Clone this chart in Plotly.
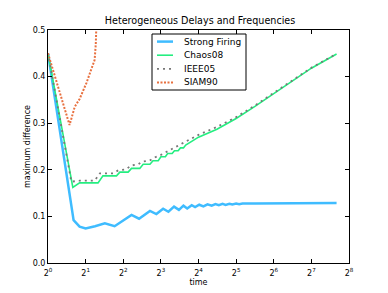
import numpy as np
import plotly.graph_objects as go

# ---- data (x given as log2(time), y = maximum difference) ----
strong_log2t = [0.0, 0.68, 0.84, 1.0, 1.25, 1.51, 1.77, 2.22, 2.42, 2.71, 2.88, 3.06, 3.2,
                3.35, 3.48, 3.6, 3.7, 3.82, 3.91, 4.02, 4.13, 4.24, 4.35, 4.45, 4.54, 4.64,
                4.72, 4.82, 4.9, 5.0, 5.08, 5.17, 5.5, 6.0, 7.0, 7.67]
strong_y = [0.45, 0.092, 0.078, 0.074, 0.079, 0.085, 0.079, 0.103, 0.095, 0.1116, 0.105,
            0.1165, 0.110, 0.121, 0.114, 0.123, 0.117, 0.124, 0.120, 0.125, 0.1215, 0.126,
            0.123, 0.1265, 0.124, 0.127, 0.1248, 0.1272, 0.1255, 0.1275, 0.126, 0.1278,
            0.1278, 0.128, 0.1285, 0.1285]

chaos_log2t = [0.0, 0.66, 0.84, 1.33, 1.46, 1.82, 1.91, 2.13, 2.22, 2.44, 2.53, 2.71, 2.79,
               2.93, 3.0, 3.12, 3.18, 3.3, 3.36, 3.46, 3.52, 3.6, 3.66, 4.0, 4.49, 5.0, 5.5,
               6.0, 6.5, 7.0, 7.67]
chaos_y = [0.45, 0.162, 0.172, 0.172, 0.187, 0.187, 0.195, 0.195, 0.203, 0.203, 0.212, 0.212,
           0.2195, 0.2195, 0.228, 0.228, 0.235, 0.235, 0.241, 0.241, 0.247, 0.247, 0.253,
           0.270, 0.287, 0.310, 0.336, 0.363, 0.390, 0.418, 0.4485]

ieee_log2t = [0.0, 0.62, 0.84, 1.24, 1.38, 1.73, 1.87, 2.08, 2.2, 2.4, 2.5, 2.7, 2.85, 3.0,
              3.6, 4.0, 4.49, 5.0, 5.5, 6.0, 6.5, 7.0, 7.67]
ieee_y = [0.45, 0.1745, 0.1766, 0.1766, 0.1925, 0.1925, 0.199, 0.201, 0.209, 0.212, 0.2175,
          0.2195, 0.227, 0.232, 0.258, 0.275, 0.292, 0.313, 0.338, 0.365, 0.391, 0.419, 0.449]

siam_log2t = [0.0, 0.573, 0.71, 0.84, 1.02, 1.24, 1.27, 1.30, 1.33]
siam_y = [0.45, 0.296, 0.335, 0.352, 0.386, 0.436, 0.47, 0.52, 0.62]

series_names = ["Strong Firing", "Chaos08", "IEEE05", "SIAM90"]
xtick_exp = [0, 1, 2, 3, 4, 5, 6, 7, 8]
ytick_vals = [0.0, 0.1, 0.2, 0.3, 0.4, 0.5]

STYLES = [
    dict(color="#3fbcff", width=2.5),
    dict(color="#24ee80", width=1.6),
    dict(color="#777777", width=1.8, dash="2px,4px"),
    dict(color="#e8703f", width=2, dash="2px,1.5px"),
]

def t_of(l):
    return [2.0 ** v for v in l]

FONT = "DejaVu Sans"
OFF = 8  # page body margin in the browser
W, H = 380, 285
ML, MR, MT, MB = 40, 39, 22, 30
PW, PH = W - ML - MR, H - MT - MB

def px(sx):  # screen x -> paper x
    return (sx - OFF - ML) / PW

def py(sy):  # screen y -> paper y
    return (OFF + H - MB - sy) / PH

fig = go.Figure()
for (lx, ly), name, st in zip([(strong_log2t, strong_y), (chaos_log2t, chaos_y),
                               (ieee_log2t, ieee_y), (siam_log2t, siam_y)],
                              series_names, STYLES):
    fig.add_trace(go.Scatter(x=t_of(lx), y=ly, mode="lines", name=name, line=st,
                             showlegend=False))

# custom legend (matplotlib-like compact box)
shapes = [dict(type="rect", xref="paper", yref="paper", x0=px(152), x1=px(246),
               y0=py(90), y1=py(34), line=dict(color="black", width=1),
               fillcolor="white", layer="above")]
annotations = []
entry_y = [41.6, 55.2, 68.8, 82.4]
for name, st, ey in zip(series_names, STYLES, entry_y):
    shapes.append(dict(type="line", xref="paper", yref="paper", x0=px(157), x1=px(173),
                       y0=py(ey), y1=py(ey), line=st, layer="above"))
    annotations.append(dict(text=name, xref="paper", yref="paper", x=px(181.5), y=py(ey),
                            xanchor="left", yanchor="middle", showarrow=False,
                            font=dict(size=9, family=FONT, color="black")))

fig.update_layout(
    width=W, height=H,
    margin=dict(l=ML, r=MR, t=MT, b=MB, autoexpand=False),
    paper_bgcolor="white", plot_bgcolor="white",
    font=dict(family=FONT, size=8, color="black"),
    title=dict(text="Heterogeneous Delays and Frequencies", xref="paper", x=px(200),
               xanchor="center", y=1 - (21 - OFF) / H, yanchor="middle",
               font=dict(size=9.6)),
    showlegend=False,
    shapes=shapes,
    annotations=annotations,
)
fig.update_xaxes(type="log", range=[0, 8 * np.log10(2)], automargin=True,
                 tickvals=[2 ** e for e in xtick_exp],
                 ticktext=[f"2<sup>{e}</sup>" for e in xtick_exp],
                 showline=True, linecolor="black", linewidth=1, mirror="ticks",
                 ticks="inside", ticklen=4, tickcolor="black", showgrid=False, zeroline=False,
                 ticklabelstandoff=2,
                 title=dict(text="time", font=dict(size=8), standoff=2),
                 tickfont=dict(size=8))
fig.update_yaxes(range=[0, 0.5], tickvals=ytick_vals, tickformat=".1f", automargin=True,
                 showline=True, linecolor="black", linewidth=1, mirror="ticks",
                 ticks="inside", ticklen=4, tickcolor="black", showgrid=False, zeroline=False,
                 title=dict(text="maximum difference", font=dict(size=8), standoff=0),
                 tickfont=dict(size=8))

fig.write_html("out.html")
